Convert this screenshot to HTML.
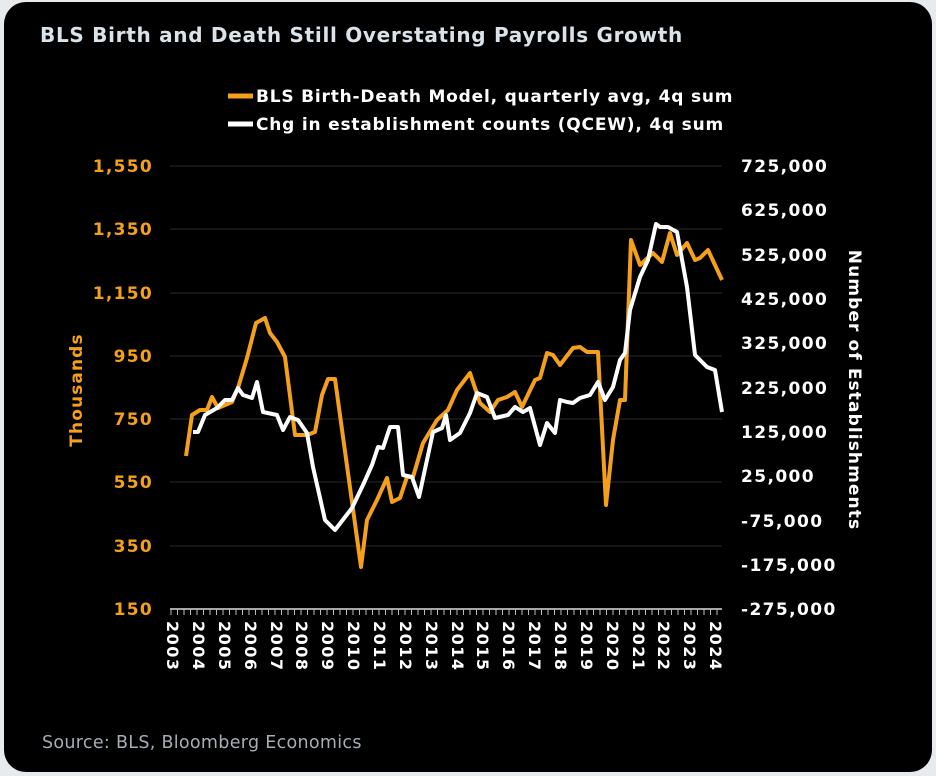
<!DOCTYPE html>
<html><head><meta charset="utf-8"><style>
body{margin:0;background:#e8ebee;width:936px;height:776px;overflow:hidden}
#c{position:absolute;left:4px;top:2px;width:928px;height:770px;background:#000;border-radius:22px}
svg{position:absolute;left:0;top:0}
</style></head><body><div id="c"></div>
<svg width="936" height="776" font-family="DejaVu Sans, Liberation Sans, sans-serif">
<text x="40" y="42" fill="#dbe3ea" font-size="20" font-weight="bold" letter-spacing="0.7">BLS Birth and Death Still Overstating Payrolls Growth</text>
<line x1="228" y1="96" x2="253" y2="96" stroke="#f5a01a" stroke-width="5"/>
<text x="256" y="102" fill="#fff" font-size="17" font-weight="bold" letter-spacing="0.8">BLS Birth-Death Model, quarterly avg, 4q sum</text>
<line x1="228" y1="124" x2="253" y2="124" stroke="#fff" stroke-width="5"/>
<text x="256" y="130" fill="#fff" font-size="17" font-weight="bold" letter-spacing="0.8">Chg in establishment counts (QCEW), 4q sum</text>
<g stroke="#2a2a2a" stroke-width="1">
<line x1="170" x2="722" y1="166" y2="166"/><line x1="170" x2="722" y1="229" y2="229"/><line x1="170" x2="722" y1="293" y2="293"/><line x1="170" x2="722" y1="356" y2="356"/><line x1="170" x2="722" y1="419" y2="419"/><line x1="170" x2="722" y1="482" y2="482"/><line x1="170" x2="722" y1="546" y2="546"/>
</g>
<line x1="170" x2="722" y1="609" y2="609" stroke="#ddd" stroke-width="1.5"/>
<g fill="#f5a01a" font-size="17" font-weight="bold" text-anchor="end" letter-spacing="1.3">
<text x="153" y="172">1,550</text><text x="153" y="235">1,350</text><text x="153" y="299">1,150</text><text x="153" y="362">950</text><text x="153" y="425">750</text><text x="153" y="488">550</text><text x="153" y="552">350</text><text x="153" y="615">150</text>
</g>
<g fill="#fff" font-size="17" font-weight="bold" letter-spacing="1.4">
<text x="741" y="172">725,000</text><text x="741" y="216">625,000</text><text x="741" y="261">525,000</text><text x="741" y="305">425,000</text><text x="741" y="349">325,000</text><text x="741" y="394">225,000</text><text x="741" y="438">125,000</text><text x="741" y="482">25,000</text><text x="741" y="527">-75,000</text><text x="741" y="571">-175,000</text><text x="741" y="615">-275,000</text>
</g>
<text transform="translate(82,390) rotate(-90)" fill="#f5a01a" font-size="17" font-weight="bold" text-anchor="middle" letter-spacing="1.1">Thousands</text>
<text transform="translate(849,390) rotate(90)" fill="#fff" font-size="17" font-weight="bold" text-anchor="middle" letter-spacing="1.1">Number of Establishments</text>
<g stroke="#bbb" stroke-width="1">
<line x1="171" x2="171" y1="609" y2="615"/><line x1="177.5" x2="177.5" y1="609" y2="615"/><line x1="184" x2="184" y1="609" y2="615"/><line x1="190.5" x2="190.5" y1="609" y2="615"/><line x1="197" x2="197" y1="609" y2="615"/><line x1="203.5" x2="203.5" y1="609" y2="615"/><line x1="210" x2="210" y1="609" y2="615"/><line x1="216.5" x2="216.5" y1="609" y2="615"/><line x1="223" x2="223" y1="609" y2="615"/><line x1="229.5" x2="229.5" y1="609" y2="615"/><line x1="236" x2="236" y1="609" y2="615"/><line x1="242.5" x2="242.5" y1="609" y2="615"/><line x1="249" x2="249" y1="609" y2="615"/><line x1="255.5" x2="255.5" y1="609" y2="615"/><line x1="262" x2="262" y1="609" y2="615"/><line x1="268.5" x2="268.5" y1="609" y2="615"/><line x1="275" x2="275" y1="609" y2="615"/><line x1="281.5" x2="281.5" y1="609" y2="615"/><line x1="288" x2="288" y1="609" y2="615"/><line x1="294.5" x2="294.5" y1="609" y2="615"/><line x1="301" x2="301" y1="609" y2="615"/><line x1="307.5" x2="307.5" y1="609" y2="615"/><line x1="314" x2="314" y1="609" y2="615"/><line x1="320.5" x2="320.5" y1="609" y2="615"/><line x1="327" x2="327" y1="609" y2="615"/><line x1="333.5" x2="333.5" y1="609" y2="615"/><line x1="340" x2="340" y1="609" y2="615"/><line x1="346.5" x2="346.5" y1="609" y2="615"/><line x1="353" x2="353" y1="609" y2="615"/><line x1="359.5" x2="359.5" y1="609" y2="615"/><line x1="366" x2="366" y1="609" y2="615"/><line x1="372.5" x2="372.5" y1="609" y2="615"/><line x1="379" x2="379" y1="609" y2="615"/><line x1="385.5" x2="385.5" y1="609" y2="615"/><line x1="392" x2="392" y1="609" y2="615"/><line x1="398.5" x2="398.5" y1="609" y2="615"/><line x1="405" x2="405" y1="609" y2="615"/><line x1="411.5" x2="411.5" y1="609" y2="615"/><line x1="418" x2="418" y1="609" y2="615"/><line x1="424.5" x2="424.5" y1="609" y2="615"/><line x1="431" x2="431" y1="609" y2="615"/><line x1="437.5" x2="437.5" y1="609" y2="615"/><line x1="444" x2="444" y1="609" y2="615"/><line x1="450.5" x2="450.5" y1="609" y2="615"/><line x1="457" x2="457" y1="609" y2="615"/><line x1="463.5" x2="463.5" y1="609" y2="615"/><line x1="470" x2="470" y1="609" y2="615"/><line x1="476.5" x2="476.5" y1="609" y2="615"/><line x1="483" x2="483" y1="609" y2="615"/><line x1="489.5" x2="489.5" y1="609" y2="615"/><line x1="496" x2="496" y1="609" y2="615"/><line x1="502.5" x2="502.5" y1="609" y2="615"/><line x1="509" x2="509" y1="609" y2="615"/><line x1="515.5" x2="515.5" y1="609" y2="615"/><line x1="522" x2="522" y1="609" y2="615"/><line x1="528.5" x2="528.5" y1="609" y2="615"/><line x1="535" x2="535" y1="609" y2="615"/><line x1="541.5" x2="541.5" y1="609" y2="615"/><line x1="548" x2="548" y1="609" y2="615"/><line x1="554.5" x2="554.5" y1="609" y2="615"/><line x1="561" x2="561" y1="609" y2="615"/><line x1="567.5" x2="567.5" y1="609" y2="615"/><line x1="574" x2="574" y1="609" y2="615"/><line x1="580.5" x2="580.5" y1="609" y2="615"/><line x1="587" x2="587" y1="609" y2="615"/><line x1="593.5" x2="593.5" y1="609" y2="615"/><line x1="600" x2="600" y1="609" y2="615"/><line x1="606.5" x2="606.5" y1="609" y2="615"/><line x1="613" x2="613" y1="609" y2="615"/><line x1="619.5" x2="619.5" y1="609" y2="615"/><line x1="626" x2="626" y1="609" y2="615"/><line x1="632.5" x2="632.5" y1="609" y2="615"/><line x1="639" x2="639" y1="609" y2="615"/><line x1="645.5" x2="645.5" y1="609" y2="615"/><line x1="652" x2="652" y1="609" y2="615"/><line x1="658.5" x2="658.5" y1="609" y2="615"/><line x1="665" x2="665" y1="609" y2="615"/><line x1="671.5" x2="671.5" y1="609" y2="615"/><line x1="678" x2="678" y1="609" y2="615"/><line x1="684.5" x2="684.5" y1="609" y2="615"/><line x1="691" x2="691" y1="609" y2="615"/><line x1="697.5" x2="697.5" y1="609" y2="615"/><line x1="704" x2="704" y1="609" y2="615"/><line x1="710.5" x2="710.5" y1="609" y2="615"/><line x1="717" x2="717" y1="609" y2="615"/>
</g>
<g fill="#fff" font-size="16" font-weight="bold" letter-spacing="1.5">
<text transform="translate(167,621) rotate(90)">2003</text>
<text transform="translate(193,621) rotate(90)">2004</text>
<text transform="translate(219,621) rotate(90)">2005</text>
<text transform="translate(245,621) rotate(90)">2006</text>
<text transform="translate(271,621) rotate(90)">2007</text>
<text transform="translate(296,621) rotate(90)">2008</text>
<text transform="translate(322,621) rotate(90)">2009</text>
<text transform="translate(348,621) rotate(90)">2010</text>
<text transform="translate(374,621) rotate(90)">2011</text>
<text transform="translate(400,621) rotate(90)">2012</text>
<text transform="translate(426,621) rotate(90)">2013</text>
<text transform="translate(452,621) rotate(90)">2014</text>
<text transform="translate(477,621) rotate(90)">2015</text>
<text transform="translate(503,621) rotate(90)">2016</text>
<text transform="translate(529,621) rotate(90)">2017</text>
<text transform="translate(555,621) rotate(90)">2018</text>
<text transform="translate(581,621) rotate(90)">2019</text>
<text transform="translate(607,621) rotate(90)">2020</text>
<text transform="translate(633,621) rotate(90)">2021</text>
<text transform="translate(658,621) rotate(90)">2022</text>
<text transform="translate(684,621) rotate(90)">2023</text>
<text transform="translate(710,621) rotate(90)">2024</text>
</g>
<polyline fill="none" stroke="#f5a01a" stroke-width="4" stroke-linejoin="round" points="186,456 192,415 200,410 207,410 212,397 218,408 232,402 238,388 247,358 256,323 265,318 270,333 277,342 285,357 295,435 307,435 315,432 322,395 328,379 335,379 348,473 361,567 367,520 377,500 387,478 392,502 400,498 407,477 413,477 423,443 437,420 448,410 457,390 470,373 480,403 490,412 498,400 507,397 515,392 522,407 535,380 540,378 547,353 553,355 560,365 573,348 580,347 587,352 598,352 606,505 613,440 620,400 625,400 631,240 640,265 653,253 662,262 670,233 677,255 687,243 695,260 700,258 708,250 722,280"/>
<polyline fill="none" stroke="#fff" stroke-width="4" stroke-linejoin="round" points="193,432 198,432 205,415 217,408 225,400 232,400 238,388 243,395 252,398 257,382 263,412 277,415 283,430 290,417 298,420 307,433 313,467 325,520 335,530 352,508 363,485 372,465 378,447 383,448 390,427 398,427 403,475 412,477 419,497 433,432 442,428 446,415 450,440 460,433 470,413 477,393 487,397 495,418 508,415 515,407 523,412 530,408 540,445 547,423 555,433 560,400 567,402 573,403 580,398 590,395 598,382 605,400 613,387 620,360 625,353 630,310 640,277 648,260 656,224 660,227 668,227 677,232 687,287 695,355 707,367 715,370 722,412"/>
<text x="42" y="748" fill="#a6aeb6" font-size="17.5" letter-spacing="0.3">Source: BLS, Bloomberg Economics</text>
</svg></body></html>
